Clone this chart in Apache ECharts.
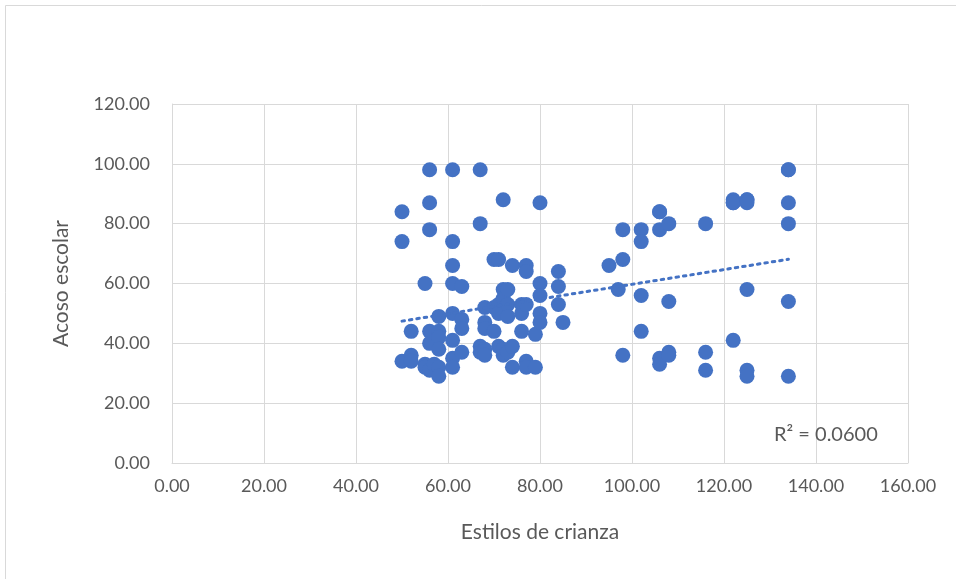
<!DOCTYPE html>
<html>
<head>
<meta charset="utf-8">
<script src="https://cdn.jsdelivr.net/npm/echarts@6/dist/echarts.min.js"></script>
<style>
html,body{margin:0;padding:0;background:#fff;}
#chart{width:956px;height:579px;}
</style>
</head>
<body>
<div id="chart"></div>
<script>
// Estilos de crianza (x) vs Acoso escolar (y); repeated pairs are points hidden under one another
const estilosCrianza = [
  50,50,50,
  52,52,52,
  55,55,55,
  56,56,56,56,56,56,
  57,
  58,58,58,58,58,58,
  61,61,61,61,61,61,61,61,
  63,63,63,63,
  67,67,67,67,
  68,68,68,68,68,
  70,70,70,
  71,71,71,71,
  72,72,72,72,72,
  73,73,73,73,
  74,74,74,
  76,76,76,
  77,77,77,77,77,
  79,79,
  80,80,80,80,80,
  84,84,84,
  85,
  95,
  97,
  98,98,98,
  102,102,102,102,
  106,106,106,106,106,
  108,108,108,108,
  116,116,116,
  122,122,122,122,
  125,125,125,125,125,125,
  134,134,134,134,134,134
];
const acosoEscolar = [
  84,74,34,
  44,36,34,
  60,33,32,
  98,87,78,44,40,31,
  33,
  49,44,42,38,32,29,
  98,74,66,60,50,41,35,32,
  59,48,45,37,
  98,80,39,37,
  52,47,45,38,36,
  68,52,44,
  68,53,50,39,
  88,58,55,38,36,
  58,53,49,37,
  66,39,32,
  53,50,44,
  66,64,53,34,32,
  43,32,
  87,60,56,50,47,
  64,59,53,
  47,
  66,
  58,
  78,68,36,
  78,74,56,44,
  84,84,78,35,33,
  80,54,37,36,
  80,37,31,
  88,87,87,41,
  88,88,87,58,31,29,
  98,98,87,80,54,29
];
const xTicks = [0,20,40,60,80,100,120,140,160];
const yTicks = [0,20,40,60,80,100,120];
const r2Label = 'R² = 0.0600';

const points = estilosCrianza.map((x,i)=>[x, acosoEscolar[i]]);

// linear least-squares trendline computed from the data
const n = points.length;
let sx=0, sy=0, sxx=0, sxy=0;
points.forEach(p=>{sx+=p[0]; sy+=p[1]; sxx+=p[0]*p[0]; sxy+=p[0]*p[1];});
const slope = (n*sxy - sx*sy)/(n*sxx - sx*sx);
const intercept = (sy - slope*sx)/n;
const xMin = Math.min(...estilosCrianza), xMax = Math.max(...estilosCrianza);
const trend = [[xMin, intercept+slope*xMin],[xMax, intercept+slope*xMax]];

const chart = echarts.init(document.getElementById('chart'), null, {renderer:'canvas'});
const font = 'Lato, "Open Sans", sans-serif';
chart.setOption({
  animation:false,
  backgroundColor:'#fff',
  graphic:[
    {type:'rect', shape:{x:5.5,y:5.5,width:1000,height:1000}, style:{fill:'none', stroke:'#d9d9d9', lineWidth:1}, silent:true, z:-10},
    {type:'text', left:774, top:425, style:{text:r2Label, font:'20px '+font, fill:'#595959'}, z:10}
  ],
  grid:{left:172, right:48, top:104, bottom:116},
  xAxis:{
    type:'value', min:xTicks[0], max:xTicks[xTicks.length-1], interval:20,
    name:'Estilos de crianza', nameLocation:'middle', nameGap:59,
    nameTextStyle:{fontFamily:font, fontSize:21, color:'#595959'},
    axisLine:{show:true, lineStyle:{color:'#d9d9d9'}}, axisTick:{show:false},
    axisLabel:{fontFamily:font, fontSize:18, color:'#595959', margin:14, formatter:v=>v.toFixed(2)},
    splitLine:{show:true, lineStyle:{color:'#d9d9d9', width:1}}
  },
  yAxis:{
    type:'value', min:yTicks[0], max:yTicks[yTicks.length-1], interval:20,
    name:'Acoso escolar', nameLocation:'middle', nameGap:100, nameRotate:90,
    nameTextStyle:{fontFamily:font, fontSize:21, color:'#595959'},
    axisLine:{show:true, lineStyle:{color:'#d9d9d9'}}, axisTick:{show:false},
    axisLabel:{fontFamily:font, fontSize:18, color:'#595959', margin:22, formatter:v=>v.toFixed(2)},
    splitLine:{show:true, lineStyle:{color:'#d9d9d9', width:1}}
  },
  series:[
    {type:'scatter', data:points, symbol:'circle', symbolSize:15,
     itemStyle:{color:'#4472C4', opacity:1}, z:2},
    {type:'line', data:trend, symbol:'none', z:3,
     lineStyle:{color:'#4472C4', width:3, type:[2.5,5], cap:'round'}}
  ]
});
</script>
</body>
</html>
